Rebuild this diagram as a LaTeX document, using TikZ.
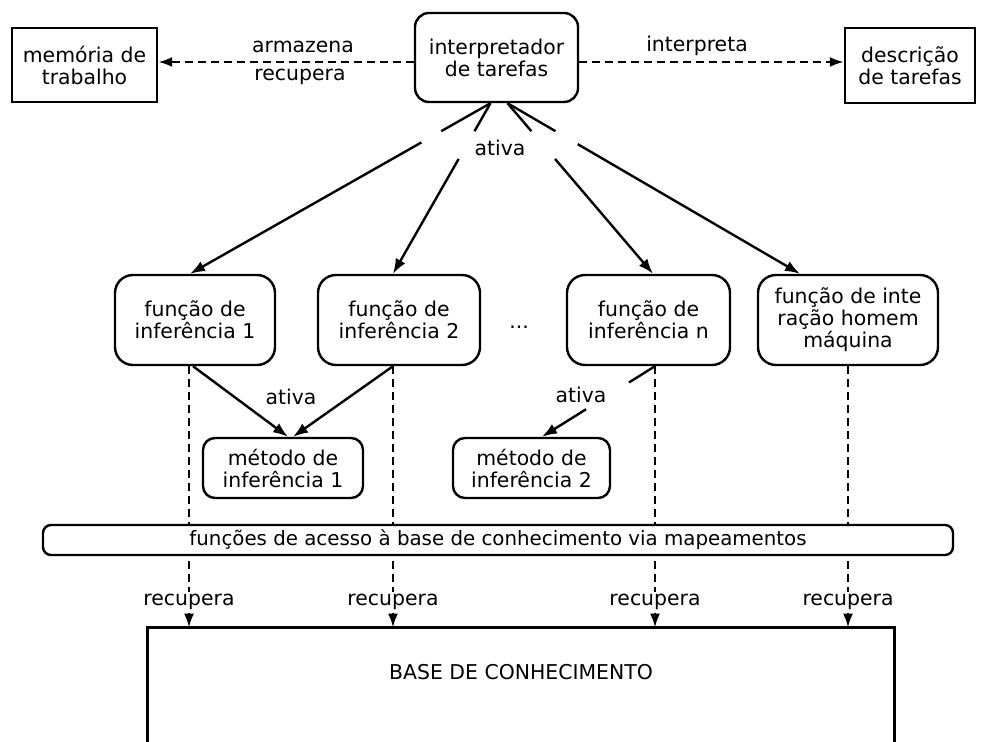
\documentclass[tikz,border=0pt]{standalone}
\usepackage{fontspec}
\setmainfont{DejaVu Sans}
\usetikzlibrary{arrows.meta,calc}
\begin{document}
\begin{tikzpicture}[x=0.5pt,y=-0.5pt,
  every node/.style={font=\fontsize{10.2}{11}\selectfont, align=center, inner sep=0pt},
  sqbox/.style={draw, line width=1.2pt},
  rbox/.style={draw, line width=1.2pt, rounded corners=8pt},
  solid link/.style={line width=1.2pt},
  conn/.style={line width=1.2pt, -{Latex[length=7.5pt,width=5.5pt]}},
  dashconn/.style={line width=1.2pt, dash pattern=on 4pt off 2.5pt, -{Latex[length=7pt,width=5pt]}},
  tag/.style={fill=white, inner sep=1pt}
]
\useasboundingbox (0,0) rectangle (984,742);

% top row
\node[sqbox, minimum width=72.5pt, minimum height=37pt] (mem) at (84.5,65) {memória de\\trabalho};
\node[rbox, rounded corners=7pt, minimum width=81.5pt, minimum height=44.5pt] (interp) at (496.5,57.5) {interpretador\\de tarefas};
\node[sqbox, minimum width=65pt, minimum height=37.5pt] (desc) at (910,65.5) {descrição\\de tarefas};

% functions
\node[rbox, rounded corners=9pt, minimum width=80pt, minimum height=45pt] (f1) at (195,320) {função de\\inferência 1};
\node[rbox, rounded corners=9pt, minimum width=81pt, minimum height=45pt] (f2) at (399,320) {função de\\inferência 2};
\node (dots) at (519,327) {...};
\node[rbox, rounded corners=9pt, minimum width=81.5pt, minimum height=45pt] (fn) at (648.5,320) {função de\\inferência n};
\node[rbox, rounded corners=9pt, minimum width=90pt, minimum height=45pt] (fh) at (848,320) {função de inte\\ração homem\\máquina};

% methods
\node[rbox, rounded corners=6pt, minimum width=80pt, minimum height=30pt] (m1) at (283,468) {método de\\inferência 1};
\node[rbox, rounded corners=6pt, minimum width=78.5pt, minimum height=30pt] (m2) at (531.5,468) {método de\\inferência 2};

% knowledge base (open at the bottom)
\node[minimum width=373pt, minimum height=44pt] (base) at (521,672) {BASE DE CONHECIMENTO};
\draw[line width=1.2pt] ($(base.south west)+(0,30)$) -- (base.north west) -- (base.north east) -- ($(base.south east)+(0,30)$);

% storage / interpretation links
\coordinate (a1) at ($(mem.east)+(0,-3)$);
\coordinate (a2) at ($(desc.west)+(0,-3.5)$);
\draw[dashconn] (interp.west |- a1) -- (a1);
\draw[dashconn] (interp.east |- a2) -- (a2);
\node (lArm) at (303,47) {armazena};
\node (lRec) at (300,77) {recupera};
\node (lInt) at (697,46) {interpreta};

% activation from the interpreter
\coordinate (sL) at ($(interp.south)+(-6,0)$);
\coordinate (sR) at ($(interp.south)+(11,0)$);
\coordinate (e1) at ($(f1.north)+(-5,0)$);
\coordinate (e2) at ($(f2.north)+(-6,0)$);
\coordinate (e3) at ($(fn.north)+(4.5,0)$);
\coordinate (e4) at ($(fh.north)+(-48,0)$);
\draw[solid link] (sL) -- ($(sL)!0.164!(e1)$);
\draw[conn] ($(sL)!0.23!(e1)$) -- (e1);
\draw[solid link] (sL) -- ($(sL)!0.164!(e2)$);
\draw[conn] ($(sL)!0.327!(e2)$) -- (e2);
\draw[solid link] (sR) -- ($(sR)!0.164!(e3)$);
\draw[conn] ($(sR)!0.327!(e3)$) -- (e3);
\draw[solid link] (sR) -- ($(sR)!0.164!(e4)$);
\draw[conn] ($(sR)!0.24!(e4)$) -- (e4);
\node (act0) at (500,147.5) {ativa};

% activation of methods
\coordinate (d1) at ($(f1.south)+(-6,0)$);
\coordinate (d2) at ($(f2.south)+(-6,0)$);
\coordinate (d3) at ($(fn.south)+(6.5,0)$);
\coordinate (d4) at (fh.south);
\draw[conn] ($(f1.south)+(-2,0)$) -- ($(m1.north)+(5,0)$);
\draw[conn] (d2) -- ($(m1.north)+(10,0)$);
\node (act1) at (291,397) {ativa};
\coordinate (g3) at ($(m2.north)+(10.5,0)$);
\draw[solid link] (d3) -- ($(d3)!0.23!(g3)$);
\draw[conn] ($(d3)!0.61!(g3)$) -- (g3);
\node (act2) at (581,395) {ativa};

% retrieval from the knowledge base
\draw[dashconn] (d1) -- (d1 |- base.north);
\draw[dashconn] (d2) -- (d2 |- base.north);
\draw[dashconn] (d3) -- (d3 |- base.north);
\draw[dashconn] (d4) -- (d4 |- base.north);

% access layer
\node[rbox, rounded corners=4pt, fill=white, minimum width=455pt, minimum height=15pt, font=\fontsize{9.9}{11}\selectfont] (acc) at (498,540) {funções de acesso à base de conhecimento via mapeamentos};

\node[tag] (r1) at (189,602) {recupera};
\node[tag] (r2) at (393,602) {recupera};
\node[tag] (r3) at (655,602) {recupera};
\node[tag] (r4) at (848,602) {recupera};
\end{tikzpicture}
\end{document}
